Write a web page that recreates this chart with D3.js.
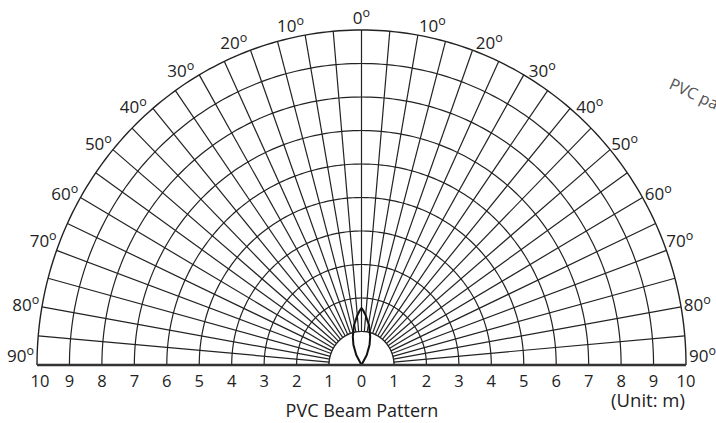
<!DOCTYPE html>
<html>
<head>
<meta charset="utf-8">
<script src="https://cdn.jsdelivr.net/npm/d3@7"></script>
<style>
  body { margin: 0; background: #fff; overflow: hidden; }
  text { font-family: "Open Sans", "Noto Sans", sans-serif; fill: #222; }
</style>
</head>
<body>
<div id="vis"></div>
<script>
// rings (m), radial spokes (deg), labels
var rings = [1, 2, 3, 4, 5, 6, 7, 8, 9, 10];
var spokes = d3.range(-90, 91, 5);
var angleLabels = [-90, -80, -70, -60, -50, -40, -30, -20, -10, 0, 10, 20, 30, 40, 50, 60, 70, 80, 90];
var distTicks = [-10, -9, -8, -7, -6, -5, -4, -3, -2, -1, 0, 1, 2, 3, 4, 5, 6, 7, 8, 9, 10];
// beam pattern outline: angle (deg) -> range (m)
var beamAngles = [-30, -28.4, -22.5, -17.5, -10.8, -4.7, -1.6, 0, 1.6, 4.7, 10.8, 17.5, 22.5, 28.4, 30];
var beamRange  = [0, 0.34, 0.65, 0.89, 1.22, 1.5, 1.64, 1.7, 1.64, 1.5, 1.22, 0.89, 0.65, 0.34, 0];

var W = 716, H = 423;
var cx = 361.5, cy = 365;

var svg = d3.select("#vis").append("svg").attr("width", W).attr("height", H);

var x = d3.scaleLinear().domain([-10, 10]).range([37, 686]);
var rx = d3.scaleLinear().domain([0, 10]).range([0, 324.5]);
var ry = d3.scaleLinear().domain([0, 10]).range([0, 335]);

function pt(a, r) {
    var t = a * Math.PI / 180;
    return [cx + rx(r) * Math.sin(t), cy - ry(r) * Math.cos(t)];
}

var line = d3.line();

// spokes
svg.selectAll(".spoke").data(spokes).enter().append("path")
    .attr("class", "spoke")
    .attr("d", function(a) { return line([pt(a, 1), pt(a, 10)]); })
    .attr("stroke", "#222").attr("stroke-width", 1.2).attr("fill", "none");

// rings
svg.selectAll(".ring").data(rings).enter().append("path")
    .attr("class", "ring")
    .attr("d", function(r) { return line(d3.range(-90, 90.5, 1).map(function(a) { return pt(a, r); })); })
    .attr("stroke", "#222").attr("stroke-width", function(r) { return r == 10 ? 1.4 : 1.2; })
    .attr("fill", "none");

// inner white half disc
svg.append("path")
    .attr("d", line(d3.range(-90, 90.5, 1).map(function(a) { return pt(a, 1); })) + "Z")
    .attr("fill", "#fff").attr("stroke", "#222").attr("stroke-width", 1.2);

// beam
svg.append("path")
    .attr("d", line(beamAngles.map(function(a, i) { return pt(a, beamRange[i]); })))
    .attr("fill", "none").attr("stroke", "#111").attr("stroke-width", 2)
    .attr("stroke-linejoin", "round");

// baseline
svg.append("line")
    .attr("x1", x(-10)).attr("x2", x(10)).attr("y1", cy).attr("y2", cy)
    .attr("stroke", "#333").attr("stroke-width", 2.5);

// distance tick labels
svg.selectAll(".dist").data(distTicks).enter().append("text")
    .attr("class", "dist")
    .attr("x", function(d) { return x(d) + (d == -10 ? 3 : 0); })
    .attr("y", 387)
    .attr("text-anchor", "middle")
    .attr("font-size", 16.5)
    .text(function(d) { return Math.abs(d); });

// angle labels
function labelPos(a) {
    var abs = Math.abs(a);
    if (abs == 90) return [cx + Math.sign(a) * 341, cy - 9];
    var off = abs == 0 ? 0 : (abs <= 40 ? 2 : (abs <= 60 ? 0.5 : (abs == 70 ? -1 : 0)));
    var t = (a + Math.sign(a) * off) * Math.PI / 180;
    return [cx + 341 * Math.sin(t), cy - 347 * Math.cos(t)];
}
var al = svg.selectAll(".ang").data(angleLabels).enter().append("text")
    .attr("class", "ang")
    .attr("x", function(a) { return labelPos(a)[0]; })
    .attr("y", function(a) { return labelPos(a)[1] + 6; })
    .attr("text-anchor", "middle")
    .attr("font-size", 17);
al.append("tspan").text(function(a) { return Math.abs(a); });
al.append("tspan").attr("dy", -7).attr("font-size", 12.5).text("o");

// titles
svg.append("text").attr("x", 362).attr("y", 417).attr("text-anchor", "middle")
    .attr("font-size", 18).text("PVC Beam Pattern");
svg.append("text").attr("x", 648).attr("y", 407).attr("text-anchor", "middle")
    .attr("font-size", 18.5).text("(Unit: m)");
svg.append("text").attr("transform", "translate(668,88) rotate(25)")
    .attr("font-size", 16).style("fill", "#555").text("PVC pattern");
</script>
</body>
</html>
